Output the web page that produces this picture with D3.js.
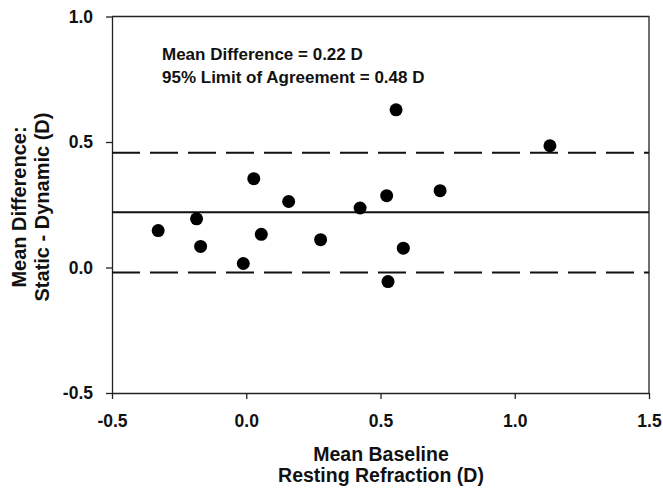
<!DOCTYPE html>
<html>
<head>
	<meta charset="utf-8">
	<title>Bland-Altman</title>
	<script src="https://cdn.jsdelivr.net/npm/d3@7"></script>
	<style>
		body { margin: 0; background: #fff; }
		text { font-family: "Liberation Sans", Arial, Helvetica, sans-serif; font-weight: bold; fill: #111; }
	</style>
</head>
<body>
	<div id="chart"></div>
	<script>

		// data
		const meanBaseline = [-0.328, -0.185, -0.170, -0.011, 0.028, 0.056, 0.158, 0.277, 0.424, 0.523, 0.558, 0.585, 0.528, 0.722, 1.131];
		const difference   = [0.147, 0.194, 0.084, 0.016, 0.354, 0.132, 0.263, 0.111, 0.237, 0.286, 0.628, 0.077, -0.056, 0.306, 0.485];
		const meanDiff   = 0.22;
		const upperLimit = 0.457;
		const lowerLimit = -0.02;
		const xTicks = [-0.5, 0.0, 0.5, 1.0, 1.5];
		const yTicks = [-0.5, 0.0, 0.5, 1.0];
		const notes  = ["Mean Difference = 0.22 D", "95% Limit of Agreement = 0.48 D"];

		const width  = 663;
		const height = 489;
		const margin = { top: 16.5, right: 14, bottom: 96, left: 112 };

		const x = d3.scaleLinear([-0.5, 1.5], [margin.left, width - margin.right]);
		const y = d3.scaleLinear([-0.5, 1.0], [height - margin.bottom, margin.top]);

		// plain hyphen for negatives, like the original
		const fmt = d => d3.format(".1f")(d).replace("\u2212", "-");

		const svg = d3.select("#chart").append("svg")
			.attr("width", width)
			.attr("height", height)
			.attr("viewBox", [0, 0, width, height]);

		// frame top + right
		svg.append("path")
			.attr("fill", "none")
			.attr("stroke", "#222")
			.attr("stroke-width", 1.3)
			.attr("d", `M${x(-0.5)},${y(1.0)}H${x(1.5)}V${y(-0.5)}`);

		// axes
		const axisStyle = g => {
			g.attr("font-size", null).attr("font-family", null);
			g.selectAll(".domain").attr("stroke", "#222").attr("stroke-width", 1.3);
			g.selectAll(".tick line").attr("stroke", "#222").attr("stroke-width", 1.3);
			g.selectAll(".tick text")
				.style("font-size", "17.5px")
				.attr("fill", "#111");
		};

		svg.append("g")
			.attr("transform", `translate(0,${y(-0.5)})`)
			.call(d3.axisBottom(x).tickValues(xTicks).tickFormat(fmt).tickSize(6).tickSizeOuter(0).tickPadding(16))
			.call(axisStyle);

		svg.append("g")
			.attr("transform", `translate(${x(-0.5)},0)`)
			.call(d3.axisLeft(y).tickValues(yTicks).tickFormat(fmt).tickSize(6).tickSizeOuter(0).tickPadding(13))
			.call(axisStyle);

		// limits of agreement
		svg.append("g")
			.attr("stroke", "#111")
			.attr("stroke-width", 2)
			.attr("stroke-dasharray", "28,10")
			.selectAll("line")
			.data([upperLimit, lowerLimit])
			.join("line")
			.attr("x1", x(-0.5))
			.attr("x2", x(1.5))
			.attr("y1", d => y(d))
			.attr("y2", d => y(d));

		svg.append("line")
			.attr("stroke", "#111")
			.attr("stroke-width", 2)
			.attr("x1", x(-0.5))
			.attr("x2", x(1.5))
			.attr("y1", y(meanDiff))
			.attr("y2", y(meanDiff));

		// points
		svg.append("g")
			.attr("fill", "#000")
			.selectAll("circle")
			.data(d3.range(meanBaseline.length))
			.join("circle")
			.attr("cx", i => x(meanBaseline[i]))
			.attr("cy", i => y(difference[i]))
			.attr("r", 6.5);

		// annotation
		svg.append("g")
			.selectAll("text")
			.data(notes)
			.join("text")
			.attr("x", 162)
			.attr("y", (d, i) => 60 + i * 23)
			.style("font-size", "17px")
			.text(d => d);

		// x title
		const xt = svg.append("text")
			.attr("text-anchor", "middle")
			.style("font-size", "19.5px");
		xt.append("tspan").attr("x", 381).attr("y", 461).text("Mean Baseline");
		xt.append("tspan").attr("x", 381).attr("y", 482).text("Resting Refraction (D)");

		// y title
		const yt = svg.append("text")
			.attr("text-anchor", "middle")
			.attr("transform", "translate(0,207) rotate(-90)")
			.style("font-size", "20px");
		yt.append("tspan").attr("x", 0).attr("y", 26).text("Mean Difference:");
		yt.append("tspan").attr("x", 0).attr("y", 49).text("Static - Dynamic (D)");

	</script>
</body>
</html>
